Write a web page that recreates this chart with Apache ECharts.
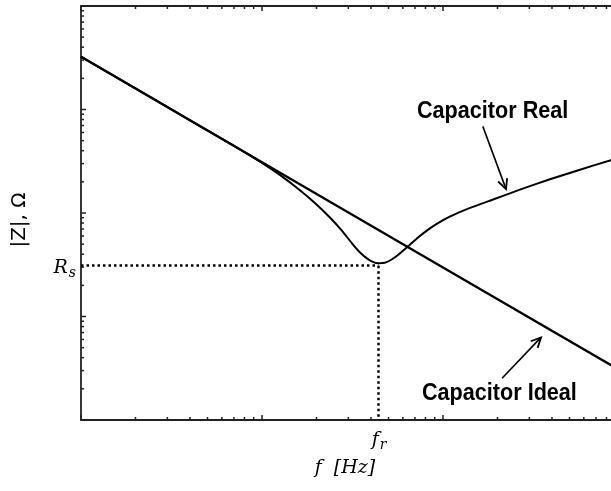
<!DOCTYPE html>
<html>
<head>
<meta charset="utf-8">
<script src="https://cdn.jsdelivr.net/npm/echarts@6/dist/echarts.min.js"></script>
<style>
html,body{margin:0;padding:0;background:#fff;overflow:hidden;}
#c{width:611px;height:491px;}
</style>
</head>
<body>
<div id="c"></div>
<script>
// Frequency (arbitrary units, log scale) and impedance |Z| (arbitrary units, log scale)
const idealF = [1, 10, 100, 1000];
const idealZ = [3236, 310, 29.8, 2.86];

const realF = [1, 2.73, 4.54, 7.56, 9.75, 12.6, 16.2, 19.6, 23.8, 27.7, 31.4, 34.8, 38.5, 41.6, 43.8, 48.4, 55.0, 64.1, 72.8, 81.7, 93.8, 109, 141, 189, 266, 390, 571, 847, 1000];
const realZ = [3236, 1167, 692, 412, 313, 232, 166, 125, 90.1, 67.3, 51.0, 41.6, 35.8, 33.3, 32.7, 33.3, 38.0, 47.6, 57.9, 67.9, 79.8, 92.3, 112, 135, 168, 212, 262, 324, 353];

const Rs = 31;     // series resistance level
const fr = 44;     // resonance frequency

// axis ticks (log decades and 2..9 minor ticks)
const xMajorTicks = [1, 10, 100, 1000];
const xMinorTicks = [2,3,4,5,6,7,8,9,20,30,40,50,60,70,80,90,200,300,400,500,600,700,800,900];
const yMajorTicks = [1, 10, 100, 1000, 10000];
const yMinorTicks = [2,3,4,5,6,7,8,9,20,30,40,50,60,70,80,90,200,300,400,500,600,700,800,900,2000,3000,4000,5000,6000,7000,8000,9000];

const xMin = 1, xMax = 1000, yMin = 1, yMax = 10000;

const chart = echarts.init(document.getElementById('c'), null, {renderer: 'canvas'});

const axisLine = {show: true, lineStyle: {color: '#222', width: 1.8}};

function xTickSeries(vals, len) {
  return {
    type: 'custom', xAxisIndex: 0, yAxisIndex: 0, silent: true, clip: false,
    data: vals.map(v => [v, yMin]),
    renderItem: function (params, api) {
      const v = api.value(0);
      const b = api.coord([v, yMin]);
      const t = api.coord([v, yMax]);
      const st = {stroke: '#222', lineWidth: 1.5};
      return {type: 'group', children: [
        {type: 'line', shape: {x1: b[0], y1: b[1], x2: b[0], y2: b[1] - len}, style: st},
        {type: 'line', shape: {x1: t[0], y1: t[1], x2: t[0], y2: t[1] + len}, style: st}
      ]};
    }
  };
}
function yTickSeries(vals, len) {
  return {
    type: 'custom', xAxisIndex: 0, yAxisIndex: 0, silent: true, clip: false,
    data: vals.map(v => [xMin, v]),
    renderItem: function (params, api) {
      const v = api.value(1);
      const p = api.coord([xMin, v]);
      return {type: 'line', shape: {x1: p[0], y1: p[1], x2: p[0] + len, y2: p[1]},
        style: {stroke: '#222', lineWidth: 1.5}};
    }
  };
}

const option = {
  animation: false,
  backgroundColor: '#fff',
  grid: {left: 81, top: 6, width: 543, height: 414, containLabel: false, outerBoundsMode: 'none'},
  xAxis: [
    {type: 'log', logBase: 10, min: xMin, max: xMax, position: 'bottom',
     axisLine: axisLine, axisTick: {show: false}, axisLabel: {show: false}, splitLine: {show: false}},
    {type: 'log', logBase: 10, min: xMin, max: xMax, position: 'top',
     axisLine: axisLine, axisTick: {show: false}, axisLabel: {show: false}, splitLine: {show: false}}
  ],
  yAxis: [
    {type: 'log', logBase: 10, min: yMin, max: yMax,
     axisLine: axisLine, axisTick: {show: false}, axisLabel: {show: false}, splitLine: {show: false}}
  ],
  series: [
    {
      name: 'Capacitor Ideal', type: 'line', xAxisIndex: 0, yAxisIndex: 0,
      data: idealF.map((f, i) => [f, idealZ[i]]),
      showSymbol: false, symbol: 'none',
      lineStyle: {color: '#000', width: 2.3}
    },
    {
      name: 'Capacitor Real', type: 'line', xAxisIndex: 0, yAxisIndex: 0,
      data: realF.map((f, i) => [f, realZ[i]]),
      showSymbol: false, symbol: 'none', smooth: 0.15,
      lineStyle: {color: '#000', width: 2},
      markLine: {
        silent: true, symbol: ['none', 'none'], label: {show: false},
        lineStyle: {color: '#000', width: 2.5, type: [2.5, 3], opacity: 1},
        data: [
          [{coord: [xMin, Rs]}, {coord: [fr, Rs]}],
          [{coord: [fr, Rs]}, {coord: [fr, yMin]}]
        ]
      }
    },
    xTickSeries(xMajorTicks, 5),
    xTickSeries(xMinorTicks, 3),
    yTickSeries(yMajorTicks, 5),
    yTickSeries(yMinorTicks, 3)
  ]
};
chart.setOption(option);

// annotations (arrows in data coordinates)
function arrow(from, to) {
  const a = chart.convertToPixel({gridIndex: 0}, from);
  const b = chart.convertToPixel({gridIndex: 0}, to);
  const ang = Math.atan2(b[1] - a[1], b[0] - a[0]);
  const L = 11, w = 0.45;
  const p1 = [b[0] - L * Math.cos(ang - w), b[1] - L * Math.sin(ang - w)];
  const p2 = [b[0] - L * Math.cos(ang + w), b[1] - L * Math.sin(ang + w)];
  return [
    {type: 'line', shape: {x1: a[0], y1: a[1], x2: b[0], y2: b[1]}, style: {stroke: '#000', lineWidth: 1.6}},
    {type: 'polyline', shape: {points: [p1, b, p2]}, style: {stroke: '#000', lineWidth: 1.8, fill: null}}
  ];
}

const boldLabel = {fontFamily: 'Liberation Sans, Arial, sans-serif', fontWeight: 'bold', fontSize: 24, fill: '#000'};
const serifIt = 'DejaVu Serif, serif';

chart.setOption({
  graphic: [].concat(
    arrow([166, 687], [223, 170]),
    arrow([212, 2.53], [348, 6.28]),
    [
      {type: 'text', x: 417, y: 111, scaleX: 0.9,
       style: Object.assign({text: 'Capacitor Real', textAlign: 'left', textVerticalAlign: 'middle'}, boldLabel)},
      {type: 'text', x: 422, y: 393, scaleX: 0.9,
       style: Object.assign({text: 'Capacitor Ideal', textAlign: 'left', textVerticalAlign: 'middle'}, boldLabel)},
      {type: 'text', x: 20, y: 220, rotation: Math.PI / 2,
       style: {text: '|Z|, Ω', font: '20px "DejaVu Sans", sans-serif', fill: '#000', textAlign: 'center', textVerticalAlign: 'middle'}},
      {type: 'text', x: 76, y: 268,
       style: {text: '{a|R}{b|s}', textAlign: 'right', textVerticalAlign: 'middle',
         rich: {a: {fontFamily: serifIt, fontStyle: 'italic', fontSize: 19, fill: '#000'},
                b: {fontFamily: serifIt, fontStyle: 'italic', fontSize: 14, fill: '#000', padding: [10, 0, 0, 1]}}}},
      {type: 'text', x: 379, y: 440,
       style: {text: '{a|f}{b|r}', textAlign: 'center', textVerticalAlign: 'middle',
         rich: {a: {fontFamily: serifIt, fontStyle: 'italic', fontSize: 19, fill: '#000'},
                b: {fontFamily: serifIt, fontStyle: 'italic', fontSize: 14, fill: '#000', padding: [10, 0, 0, 1]}}}},
      {type: 'text', x: 345, y: 468,
       style: {text: 'f  [Hz]', font: 'italic 19px "DejaVu Serif", serif', fill: '#000', textAlign: 'center', textVerticalAlign: 'middle'}}
    ]
  )
});
</script>
</body>
</html>
